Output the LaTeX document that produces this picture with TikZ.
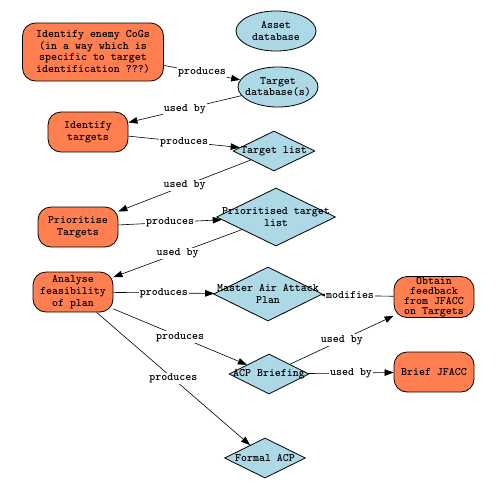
\documentclass[tikz,border=0pt]{standalone}
\usepackage{fontspec}
\usetikzlibrary{shapes.geometric,arrows.meta}
\definecolor{coralc}{HTML}{FF7F50}
\definecolor{lblue}{HTML}{ADD8E6}
\begin{document}
\begin{tikzpicture}[x=1pt,y=-1pt,
  txt/.style={font=\ttfamily\bfseries\fontsize{11.4}{11.7}\selectfont, align=center, inner sep=0pt},
  tight/.style={font=\ttfamily\bfseries\fontsize{11.4}{10}\selectfont},
  task/.style={txt, draw=black, fill=coralc, rounded corners=13pt, line width=0.8pt, minimum width=80pt, minimum height=40pt},
  dbase/.style={ellipse, draw=black, fill=lblue, line width=0.8pt, inner sep=0pt, minimum width=80pt, minimum height=40pt},
  prod/.style={diamond, draw=black, fill=lblue, line width=0.8pt, inner sep=0pt, minimum width=82pt, minimum height=40pt},
  ctext/.style={txt},
  conn/.style={draw, line width=0.6pt, -{Triangle[length=9pt,width=6.5pt]}},
  lbl/.style={txt, fill=white, inner sep=1pt}
]
\useasboundingbox[fill=white] (0,0) rectangle (500,485);

\node[task, minimum width=141pt, minimum height=58pt] (cogs) at (93,52)
  {Identify enemy CoGs\\(in a way which is\\specific to target\\identification ???)};
\node[dbase, label={[ctext]center:Asset\\database}] (asset) at (276,31) {};
\node[dbase, label={[ctext]center:Target\\database(s)}] (tdb) at (278,87) {};
\node[task] (idt) at (88,132) {Identify\\targets};
\node[prod, label={[ctext]center:Target list}] (tl) at (274,151) {};
\node[task] (prio) at (78,227) {Prioritise\\Targets};
\node[prod, minimum width=119pt, minimum height=58pt, label={[ctext]center:Prioritised target\\list}] (ptl) at (276,217) {};
\node[task] (anal) at (73,292) {Analyse\\feasibility\\of plan};
\node[prod, minimum width=109pt, minimum height=54pt, label={[ctext]center:Master Air Attack\\Plan}] (maap) at (268,294) {};
\node[task, tight, minimum height=41pt] (obt) at (434,297) {Obtain\\feedback\\from JFACC\\on Targets};
\node[prod, minimum width=80pt, label={[ctext]center:ACP Briefing}] (acpb) at (269,374) {};
\node[task] (brief) at (434,372) {Brief JFACC};
\node[prod, minimum width=81pt, label={[ctext]center:Formal ACP}] (facp) at (265,458) {};

\path[conn] (cogs) -- node[lbl] {produces} (tdb);
\path[conn] (tdb) -- node[lbl] {used by} (idt);
\path[conn] (idt) -- node[lbl] {produces} (tl);
\path[conn] (tl) -- node[lbl] {used by} (prio);
\path[conn] (prio) -- node[lbl] {produces} (ptl);
\path[conn] (ptl) -- node[lbl] {used by} (anal);
\path[conn] (anal) -- node[lbl] {produces} (maap);
\path[conn] (obt) -- node[lbl, pos=0.6] {modifies} (maap);
\path[conn] (anal) -- node[lbl] {produces} (acpb);
\path[conn] (anal) -- node[lbl] {produces} (facp);
\path[conn] (acpb) -- node[lbl] {used by} (obt);
\path[conn] (acpb) -- node[lbl] {used by} (brief);
\end{tikzpicture}
\end{document}
